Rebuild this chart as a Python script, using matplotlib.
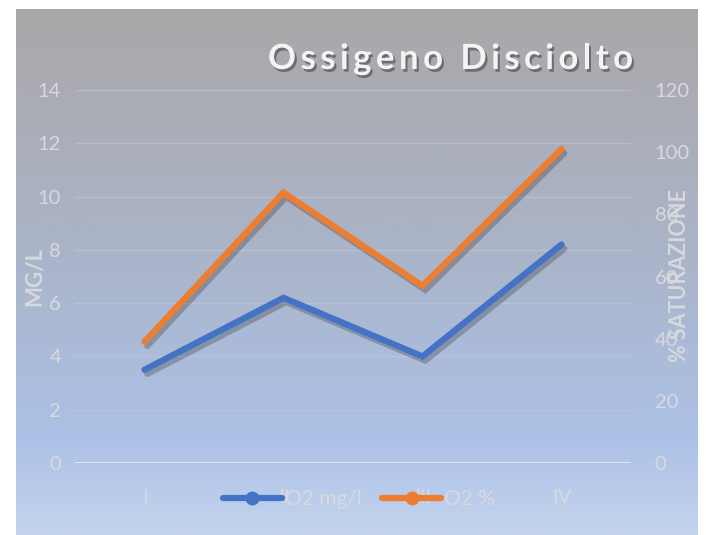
import numpy as np
import matplotlib
matplotlib.use("Agg")
import matplotlib.pyplot as plt
import matplotlib.patheffects as pe
from matplotlib.lines import Line2D

categories = ["I", "II", "III", "IV"]
o2_mgl = [3.5, 6.2, 4.0, 8.2]
o2_pct = [39, 87, 57, 101]
left_ticks = [0, 2, 4, 6, 8, 10, 12, 14]
right_ticks = [0, 20, 40, 60, 80, 100, 120]
title = "Ossigeno Disciolto"

BLUE = "#4472C4"
ORANGE = "#ED7D31"
TXT = "#d8d9de"
FONT = "Lato"
W, H = 708, 535

fig = plt.figure(figsize=(7.08, 5.35), dpi=100, facecolor="white")

# background gradient
bg = fig.add_axes([16/W, 0, (698-16)/W, (535-9)/H])
bg.set_axis_off()
stops = [(0.0, (170, 167, 168)), (0.45, (170, 180, 200)),
         (0.82, (172, 193, 230)), (1.0, (196, 212, 238))]
n = 256
t = np.linspace(0, 1, n)
cols = np.zeros((n, 3))
for c in range(3):
    cols[:, c] = np.interp(t, [s[0] for s in stops], [s[1][c] for s in stops]) / 255
img = np.repeat(cols[:, None, :], 2, axis=1)
bg.imshow(img, aspect="auto", extent=[0, 1, 0, 1], origin="upper")
bg.set_xlim(0, 1); bg.set_ylim(0, 1)

ax = fig.add_axes([75/W, 1-463/H, (631-75)/W, (463-90)/H])
ax.patch.set_alpha(0)
for s in ax.spines.values():
    s.set_visible(False)
x = np.arange(len(categories))
ax.set_xlim(-0.5, len(categories)-0.5)
ax.set_ylim(0, 14)
ax.set_yticks(left_ticks)
ax.set_xticks(x)
ax.set_xticklabels(categories)
ax.tick_params(length=0, colors=TXT, labelsize=14.5)
ax.tick_params(axis="y", pad=10)
ax.tick_params(axis="x", pad=19)
for lab in ax.get_xticklabels() + ax.get_yticklabels():
    lab.set_family(FONT)
ax.grid(axis="y", color="#c8ccd6", alpha=0.5, linewidth=1)
ax.axhline(0, color="#dfe3ea", linewidth=2.2, zorder=1)
ax.set_axisbelow(True)

shadow = [pe.SimpleLineShadow(offset=(2, -3), shadow_color="k", alpha=0.22), pe.Normal()]

ax2 = ax.twinx()
ax2.patch.set_alpha(0)
for s in ax2.spines.values():
    s.set_visible(False)
ax2.set_ylim(0, 120)
ax2.set_yticks(right_ticks)
ax2.tick_params(length=0, colors=TXT, labelsize=14.5, pad=17)
for lab in ax2.get_yticklabels():
    lab.set_family(FONT)

ax.plot(x, o2_mgl, color=BLUE, linewidth=4.5, solid_capstyle="round",
        solid_joinstyle="miter", path_effects=shadow, zorder=3)
ax2.plot(x, o2_pct, color=ORANGE, linewidth=4.5, solid_capstyle="round",
         solid_joinstyle="miter", path_effects=shadow, zorder=3)

fig.text(35/W, 1-276/H, "MG/L", rotation=90, ha="center", va="center",
         color=TXT, fontsize=16, fontweight="bold", family=FONT)
fig.text(680/W, 1-276/H, "% SATURAZIONE", rotation=90, ha="center", va="center",
         color=TXT, fontsize=15.5, fontweight="bold", family=FONT)

# title with letter spacing
renderer = fig.canvas.get_renderer()
tkw = dict(color="#f4f4f4", fontsize=25, fontweight="bold", family=FONT,
           va="baseline", ha="left")
def width_of(s):
    if not s:
        return 0.0
    tt = fig.text(0, 0, s, **tkw)
    w = tt.get_window_extent(renderer).width
    tt.remove()
    return w
full_w = width_of(title)
target_left, target_right = 268, 633
spacing = ((target_right - target_left) - full_w) / (len(title) - 1)
title_fx = [pe.SimplePatchShadow(offset=(1.5, -2), shadow_rgbFace="k", alpha=0.35), pe.Normal()]
for i, ch in enumerate(title):
    if ch == " ":
        continue
    px = target_left + width_of(title[:i]) + i * spacing
    fig.text(px/W, 1-69/H, ch, path_effects=title_fx, **tkw)

handles = [Line2D([], [], color=BLUE, linewidth=4.5, marker="o", markersize=9,
                  solid_capstyle="round"),
           Line2D([], [], color=ORANGE, linewidth=4.5, marker="o", markersize=9,
                  solid_capstyle="round")]
leg = fig.legend(handles, ["O2 mg/l", "O2 %"], loc="center",
                 bbox_to_anchor=(359/W, 1-499/H), ncol=2, frameon=False,
                 prop={"family": FONT, "size": 15}, handlelength=2.8,
                 handletextpad=0.15, columnspacing=1.0)
for txt in leg.get_texts():
    txt.set_color(TXT)

fig.savefig("out.png", dpi=100, facecolor="white")
